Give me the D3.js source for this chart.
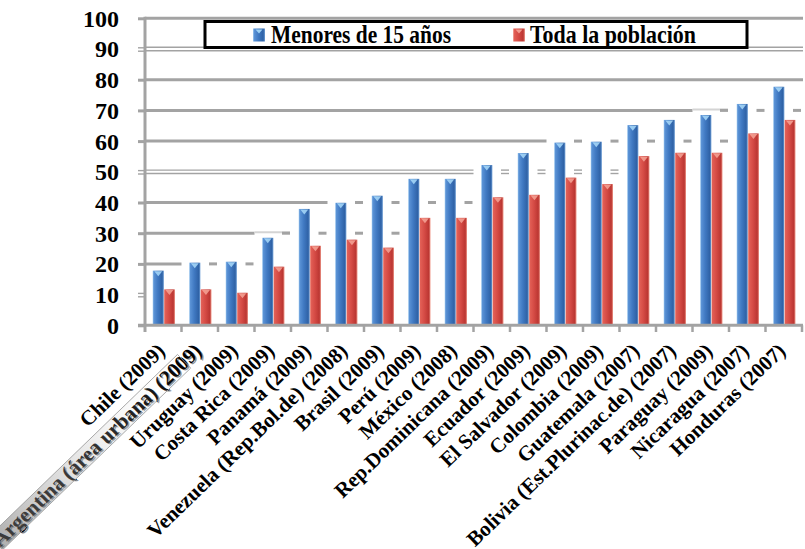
<!DOCTYPE html>
<html>
<head>
<meta charset="utf-8">
<script src="https://cdn.jsdelivr.net/npm/d3@7"></script>
<style>
  html, body { margin: 0; padding: 0; background: #fff; }
  svg { display: block; }
</style>
</head>
<body>
<svg id="chart" width="805" height="549"></svg>
<script>
// Countries (survey year)
const categories = [
  "Chile (2009)", "Argentina (área urbana) (2009)", "Uruguay (2009)", "Costa Rica (2009)",
  "Panamá (2009)", "Venezuela (Rep.Bol.de) (2008)", "Brasil (2009)", "Perú (2009)",
  "México (2008)", "Rep.Dominicana (2009)", "Ecuador (2009)", "El Salvador (2009)",
  "Colombia (2009)", "Guatemala (2007)", "Bolivia (Est.Plurinac.de) (2007)",
  "Paraguay (2009)", "Nicaragua (2007)", "Honduras (2007)"
];
const seriesNames = ["Menores de 15 años", "Toda la población"];
const menores15 = [17.8, 20.4, 20.7, 28.5, 37.9, 39.9, 42.2, 47.7, 47.7, 52.2,
                   56.1, 59.5, 59.8, 65.2, 66.9, 68.5, 72.1, 77.7];
const todaPoblacion = [11.7, 11.7, 10.6, 19.1, 25.9, 27.9, 25.3, 35.0, 35.0, 41.7,
                       42.5, 48.1, 46.0, 55.1, 56.2, 56.2, 62.5, 66.9];
const yTicks = [0, 10, 20, 30, 40, 50, 60, 70, 80, 90, 100];

// How each horizontal gridline shows through the columns: solid up to a
// category boundary, an optional faint run over the next band, then short
// dashes in the gaps between the following groups.
const gridRuns = [
  { v: 10, solidTo: 0, fade: false, dashes: 0 },
  { v: 20, solidTo: 1, fade: false, dashes: 2 },
  { v: 30, solidTo: 3, fade: true, dashes: 4 },
  { v: 40, solidTo: 5, fade: false, dashes: 4 },
  { v: 50, solidTo: 9, fade: false, dashes: 4 },
  { v: 60, solidTo: 11, fade: false, dashes: 5 },
  { v: 70, solidTo: 15, fade: true, dashes: 3 },
  { v: 80, solidTo: 18, fade: false, dashes: 0 },
  { v: 90, solidTo: 18, fade: false, dashes: 0 },
  { v: 100, solidTo: 18, fade: false, dashes: 0 }
];
const doubledTicks = [10, 50, 90];

const svg = d3.select("#chart");
const serif = '"Liberation Serif", "Times New Roman", serif';
const gridColor = "#a3a3a3";
const boldSerif = (sel, size) => sel
  .style("font-family", serif).style("font-weight", "bold").style("font-size", size + "px");

const x = d3.scaleBand().domain(categories).range([145, 802]).padding(0);
const xs = d3.scaleBand().domain(seriesNames).range([7.7, 30]).padding(0);
const y = d3.scaleLinear().domain([0, 100]).range([325.3, 18.3]);
const plotRight = 803;
const boundary = k => x.range()[0] + k * x.step();

// ---- gradients
const defs = svg.append("defs");
function grad(id, stops, horizontal = true) {
  const g = defs.append("linearGradient").attr("id", id)
    .attr("x1", 0).attr("y1", 0).attr("x2", horizontal ? 1 : 0).attr("y2", horizontal ? 0 : 1);
  stops.forEach(([o, c, op]) => g.append("stop").attr("offset", o).attr("stop-color", c)
    .attr("stop-opacity", op === undefined ? 1 : op));
}
grad("gBlue", [["0%", "#a8d0f2"], ["10%", "#5b93d6"], ["45%", "#4079c2"], ["85%", "#2f62a6"], ["100%", "#6f9fd6"]]);
grad("gRed", [["0%", "#f7b9ad"], ["10%", "#e25f56"], ["45%", "#d54b45"], ["85%", "#bb3632"], ["100%", "#f09c8e"]]);
grad("gGhost", [["0%", "#6a6a6a", 0.55], ["55%", "#bdbdbd", 0.25], ["100%", "#ffffff", 0]]);
const fills = { "Menores de 15 años": "url(#gBlue)", "Toda la población": "url(#gRed)" };
const capFills = { "Menores de 15 años": "#a9dbfa", "Toda la población": "#f6a497" };

// ---- gridlines
const grid = svg.append("g").attr("class", "grid");
function hline(x1, x2, yy, dbl, col, w) {
  if (x2 <= x1) return;
  if (dbl) {
    [-1.7, 1.7].forEach(o => grid.append("line")
      .attr("x1", x1).attr("x2", x2).attr("y1", yy + o).attr("y2", yy + o)
      .attr("stroke", col).attr("stroke-width", 1.4));
  } else {
    grid.append("line").attr("x1", x1).attr("x2", x2).attr("y1", yy).attr("y2", yy)
      .attr("stroke", col).attr("stroke-width", w || 3);
  }
}
gridRuns.forEach(r => {
  const yy = y(r.v);
  const dbl = doubledTicks.includes(r.v);
  const solidEnd = r.solidTo >= categories.length ? plotRight : boundary(r.solidTo);
  hline(145, solidEnd, yy, dbl, gridColor);
  if (r.fade) hline(boundary(r.solidTo), boundary(r.solidTo + 1) - 1, yy - 1, dbl, "#d4d4d4", 2);
  for (let k = r.solidTo + 1; k <= r.solidTo + r.dashes; k++) {
    hline(boundary(k) - 9, boundary(k) - 1, yy, dbl, gridColor);
  }
});

// ---- columns
const rows = categories.map((c, i) => ({
  cat: c,
  vals: [
    { s: seriesNames[0], v: menores15[i] },
    { s: seriesNames[1], v: todaPoblacion[i] }
  ]
}));
const groups = svg.append("g").selectAll("g").data(rows).join("g")
  .attr("transform", d => `translate(${x(d.cat)},0)`);
const bars = groups.selectAll("g").data(d => d.vals).join("g");
bars.append("rect")
  .attr("x", d => xs(d.s))
  .attr("y", d => y(d.v))
  .attr("width", xs.bandwidth())
  .attr("height", d => y(0) - y(d.v))
  .attr("fill", d => fills[d.s]);
bars.append("path")
  .attr("d", d => {
    const cx = xs(d.s) + xs.bandwidth() / 2, t = y(d.v);
    return `M${cx - 4},${t + 0.5} L${cx + 4},${t + 0.5} L${cx},${t + 5.5} Z`;
  })
  .attr("fill", d => capFills[d.s]).attr("opacity", 0.85);

// ---- axes
const axisG = svg.append("g");
axisG.append("line").attr("x1", 145).attr("x2", 145).attr("y1", y(100) - 1.5).attr("y2", 332)
  .attr("stroke", gridColor).attr("stroke-width", 3);
axisG.append("line").attr("x1", 138).attr("x2", plotRight).attr("y1", y(0)).attr("y2", y(0))
  .attr("stroke", gridColor).attr("stroke-width", 3);
axisG.selectAll("line.bt").data(d3.range(1, categories.length + 1)).join("line")
  .attr("class", "bt")
  .attr("x1", k => Math.min(boundary(k), plotRight - 1)).attr("x2", k => Math.min(boundary(k), plotRight - 1))
  .attr("y1", y(0)).attr("y2", 332)
  .attr("stroke", gridColor).attr("stroke-width", 2.5);

const yAxis = svg.append("g").attr("transform", "translate(145,0)")
  .call(d3.axisLeft(y).tickValues(yTicks).tickSize(7).tickPadding(19));
yAxis.select(".domain").remove();
yAxis.selectAll(".tick line")
  .attr("stroke", gridColor)
  .attr("stroke-width", d => doubledTicks.includes(d) ? 1.4 : 3)
  .attr("transform", d => doubledTicks.includes(d) ? "translate(0,-1.7)" : null);
yAxis.selectAll(".tick").filter(d => doubledTicks.includes(d))
  .append("line").attr("x2", -7).attr("y1", 1.7).attr("y2", 1.7)
  .attr("stroke", gridColor).attr("stroke-width", 1.4);
yAxis.selectAll(".tick text")
  .attr("fill", "#000").attr("dy", "0.33em")
  .call(boldSerif, 24);

const xAxis = svg.append("g").attr("transform", `translate(0,${y(0)})`)
  .call(d3.axisBottom(x).tickSize(0).tickPadding(0));
xAxis.select(".domain").remove();
xAxis.selectAll(".tick text")
  .attr("fill", "#000").attr("text-anchor", "end")
  .attr("x", 0).attr("y", 0).attr("dy", 0)
  .attr("transform", "translate(3,27) rotate(-44)")
  .call(boldSerif, 21);

// the Argentina label sits under a faded glassy band
xAxis.selectAll(".tick").filter((d, i) => i === 1).each(function () {
  const tick = d3.select(this);
  const txt = tick.select("text");
  const len = txt.node().getComputedTextLength();
  tick.insert("text", "text").text(txt.text())
    .attr("text-anchor", "end").attr("fill", "#444").attr("opacity", 0.6)
    .attr("transform", "translate(4.5,28) rotate(-44)")
    .call(boldSerif, 21);
  tick.append("rect")
    .attr("x", -len).attr("y", -16).attr("width", len * 0.93).attr("height", 19)
    .attr("fill", "url(#gGhost)").attr("stroke", "#9a9a9a").attr("stroke-width", 0.8)
    .attr("transform", "translate(3,27) rotate(-44)");
});

// ---- legend
const leg = svg.append("g");
leg.append("rect").attr("x", 205).attr("y", 21.5).attr("width", 542).attr("height", 26)
  .attr("fill", "#fff").attr("stroke", "#000").attr("stroke-width", 3);
const legendItems = [
  { s: seriesNames[0], mx: 253, tx: 271, tw: 180 },
  { s: seriesNames[1], mx: 513, tx: 530, tw: 166 }
];
legendItems.forEach(it => {
  leg.append("rect").attr("x", it.mx).attr("y", 28.5).attr("width", 12).attr("height", 13)
    .attr("fill", fills[it.s]);
  leg.append("path")
    .attr("d", `M${it.mx + 2.5},29.5 L${it.mx + 9.5},29.5 L${it.mx + 6},33.5 Z`)
    .attr("fill", capFills[it.s]).attr("opacity", 0.9);
  leg.append("text").text(it.s)
    .attr("x", it.tx).attr("y", 42.7)
    .attr("textLength", it.tw).attr("lengthAdjust", "spacingAndGlyphs")
    .attr("fill", "#000")
    .call(boldSerif, 25);
});
</script>
</body>
</html>
